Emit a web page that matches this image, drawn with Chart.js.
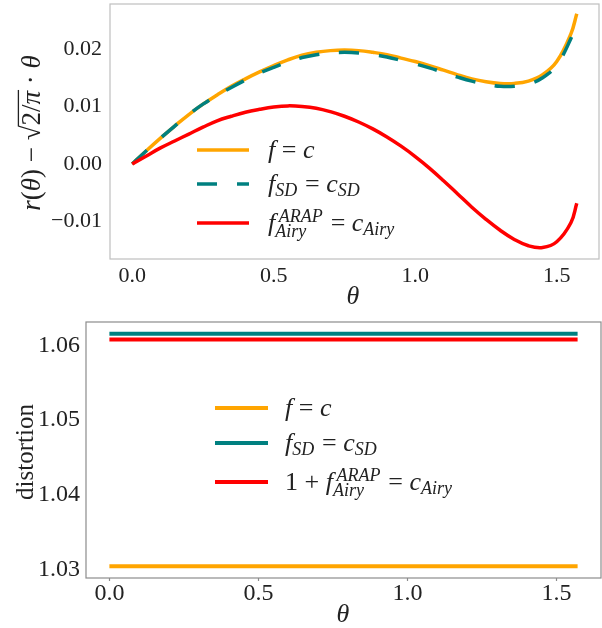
<!DOCTYPE html>
<html>
<head>
<meta charset="utf-8">
<script src="https://cdn.jsdelivr.net/npm/chart.js@4/dist/chart.umd.min.js"></script>
<style>
  html, body { margin: 0; padding: 0; background: #fff; }
  #wrap { position: relative; width: 602px; height: 628px; }
  canvas { position: absolute; left: 0; }
</style>
</head>
<body>
<div id="wrap">
  <canvas id="topChart" width="602" height="310" style="top:0"></canvas>
  <canvas id="bottomChart" width="602" height="318" style="top:310px"></canvas>
</div>
<script>
// ---- data ----
const theta = [0, 0.05, 0.10, 0.15, 0.20, 0.25, 0.30, 0.35, 0.40, 0.45, 0.50, 0.55, 0.60, 0.65,
  0.70, 0.75, 0.80, 0.85, 0.90, 0.95, 1.00, 1.05, 1.10, 1.15, 1.20, 1.25, 1.30, 1.35, 1.40,
  1.45, 1.50, 1.55, 1.5708];
const rF = [0, 0.0023, 0.0045, 0.0066, 0.0086, 0.0104, 0.0120, 0.0135, 0.0148, 0.0160, 0.0171,
  0.0181, 0.0189, 0.0194, 0.0197, 0.0198, 0.0197, 0.0194, 0.0190, 0.0184, 0.0178, 0.0171,
  0.0163, 0.0155, 0.0148, 0.0143, 0.0140, 0.0140, 0.0144, 0.0155, 0.0178, 0.0226, 0.0261];
const rSD = [0, 0.0023, 0.0045, 0.0066, 0.0086, 0.0104, 0.0119, 0.0133, 0.0146, 0.0158, 0.0168,
  0.0177, 0.0185, 0.0190, 0.0193, 0.0194, 0.0193, 0.0190, 0.0186, 0.0180, 0.0174, 0.0167,
  0.0159, 0.0151, 0.0144, 0.0139, 0.0135, 0.0135, 0.0139, 0.0150, 0.0172, 0.0218, 0.0247];
const rAiry = [0, 0.0014, 0.0028, 0.0040, 0.0052, 0.0064, 0.0075, 0.0083, 0.0090, 0.0095, 0.0099,
  0.0101, 0.0100, 0.0097, 0.0091, 0.0083, 0.0073, 0.0061, 0.0047, 0.0031, 0.0013, -0.0007,
  -0.0029, -0.0052, -0.0075, -0.0096, -0.0115, -0.0131, -0.0142, -0.0145, -0.0135, -0.0102, -0.0068];

const thetaFlat = [0, 1.5708];
const distF = [1.0304, 1.0304];
const distSD = [1.0616, 1.0616];
const distAiry = [1.0608, 1.0608];

// legend labels (math pieces: i = italic, sub/sup = scripts)
const labelsTop = [
  [{t: 'f', i: 1}, {t: ' = '}, {t: 'c', i: 1}],
  [{t: 'f', i: 1}, {sub: 'SD'}, {t: ' = '}, {t: 'c', i: 1}, {sub: 'SD'}],
  [{t: 'f', i: 1}, {sup: 'ARAP', sub: 'Airy'}, {t: ' = '}, {t: 'c', i: 1}, {sub: 'Airy'}]
];
const labelsBottom = [
  labelsTop[0],
  labelsTop[1],
  [{t: '1 + '}, {t: 'f', i: 1}, {sup: 'ARAP', sub: 'Airy'}, {t: ' = '}, {t: 'c', i: 1}, {sub: 'Airy'}]
];
const yLabelTop = [{t: 'r', i: 1}, {t: '('}, {t: 'θ', i: 1}, {t: ')'}, {t: ' − '},
  {sqrt: [{t: '2/'}, {t: 'π', i: 1}]}, {t: ' · '}, {t: 'θ', i: 1}];

const ORANGE = '#ffa500';
const TEAL = '#008080';
const RED = '#ff0000';
const TXT = '#222222';
const SERIF = '"Liberation Serif", "DejaVu Serif", serif';

const pts = (xs, ys) => xs.map((x, k) => ({x: x, y: ys[k]}));

// small math-text renderer; returns width
function drawMath(ctx, parts, x, y, size, draw) {
  const small = Math.round(size * 0.68);
  let cx = x;
  for (const p of parts) {
    if (p.sup !== undefined || p.sub !== undefined) {
      ctx.font = 'italic ' + small + 'px ' + SERIF;
      const both = p.sup && p.sub;
      let w = 0;
      if (p.sup) {
        const sx = cx + size * 0.14;
        if (draw) ctx.fillText(p.sup, sx, y - size * 0.36);
        w = sx - cx + ctx.measureText(p.sup).width;
      }
      if (p.sub) {
        if (draw) ctx.fillText(p.sub, cx, y + size * (both ? 0.24 : 0.15));
        w = Math.max(w, ctx.measureText(p.sub).width);
      }
      cx += w + size * 0.05;
    } else if (p.sqrt) {
      ctx.font = size + 'px ' + SERIF;
      if (draw) ctx.fillText('√', cx, y);
      cx += ctx.measureText('√').width;
      const start = cx;
      cx += drawMath(ctx, p.sqrt, cx, y, size, draw);
      if (draw) {
        ctx.save();
        ctx.strokeStyle = ctx.fillStyle;
        ctx.lineWidth = 1.3;
        ctx.beginPath();
        ctx.moveTo(start - 1, y - size * 0.8);
        ctx.lineTo(cx + 1, y - size * 0.8);
        ctx.stroke();
        ctx.restore();
      }
    } else {
      ctx.font = (p.i ? 'italic ' : '') + size + 'px ' + SERIF;
      if (draw) ctx.fillText(p.t, cx, y);
      cx += ctx.measureText(p.t).width;
    }
  }
  return cx - x;
}

function mathCentered(ctx, parts, cx, y, size, rotate) {
  ctx.save();
  ctx.fillStyle = TXT;
  ctx.textAlign = 'left';
  ctx.textBaseline = 'alphabetic';
  const w = drawMath(ctx, parts, 0, 0, size, false);
  ctx.translate(cx, y);
  if (rotate) ctx.rotate(-Math.PI / 2);
  drawMath(ctx, parts, -w / 2, 0, size, true);
  ctx.restore();
}

// frame, legend and axis titles
function decorPlugin(cfg) {
  return {
    id: 'decor',
    afterDraw(chart) {
      const ctx = chart.ctx;
      const a = chart.chartArea;
      ctx.save();
      ctx.strokeStyle = cfg.frame;
      ctx.lineWidth = 1.2;
      ctx.strokeRect(a.left, a.top, a.right - a.left, a.bottom - a.top);
      if (cfg.xTicks) {
        const xs = chart.scales.x;
        xs.ticks.forEach(t => {
          const px = Math.round(xs.getPixelForValue(t.value)) + 0.5;
          ctx.beginPath();
          ctx.moveTo(px, a.bottom);
          ctx.lineTo(px, a.bottom + 3);
          ctx.stroke();
        });
      }
      // legend
      chart.data.datasets.forEach((ds, k) => {
        const ly = cfg.legendRows[k];
        ctx.save();
        ctx.strokeStyle = ds.borderColor;
        ctx.lineWidth = ds.borderWidth;
        ctx.setLineDash(ds.borderDash || []);
        ctx.beginPath();
        ctx.moveTo(cfg.legendX[0], ly);
        ctx.lineTo(cfg.legendX[1], ly);
        ctx.stroke();
        ctx.restore();
        ctx.fillStyle = TXT;
        ctx.textAlign = 'left';
        ctx.textBaseline = 'alphabetic';
        drawMath(ctx, cfg.labels[k], cfg.legendX[2], ly + 8, cfg.legendSize, true);
      });
      ctx.restore();
      // axis titles
      mathCentered(ctx, [{t: 'θ', i: 1}], cfg.xTitle[0], cfg.xTitle[1], 26, false);
      mathCentered(ctx, cfg.yTitle, cfg.yTitlePos[0], cfg.yTitlePos[1], cfg.yTitleSize, true);
    }
  };
}

function scaleOpts(min, max, step, fmt, size, pad, fitKey, fitVal) {
  return {
    type: 'linear',
    min: min,
    max: max,
    grid: {display: false, drawTicks: false},
    border: {display: false},
    afterFit: s => {
      s[fitKey] = fitVal;
      // no extra room for half labels at the ends
      s.paddingTop = 0; s.paddingBottom = 0; s.paddingLeft = 0; s.paddingRight = 0;
    },
    ticks: {
      stepSize: step,
      includeBounds: false,
      autoSkip: false,
      maxRotation: 0,
      padding: pad,
      color: TXT,
      font: {family: SERIF, size: size},
      callback: fmt
    }
  };
}

const fmt2 = v => (v < 0 ? '−' : '') + Math.abs(v).toFixed(2);
const fmt1 = v => v.toFixed(1);

new Chart(document.getElementById('topChart').getContext('2d'), {
  type: 'line',
  data: {
    datasets: [
      {data: pts(theta, rF), borderColor: ORANGE, borderWidth: 3.5, order: 3},
      {data: pts(theta, rSD), borderColor: TEAL, borderWidth: 3.5, borderDash: [20, 20], order: 2},
      {data: pts(theta, rAiry), borderColor: RED, borderWidth: 3.5, order: 1}
    ]
  },
  options: {
    responsive: false,
    animation: false,
    layout: {padding: {top: 4, right: 3, left: 0, bottom: 0}},
    elements: {point: {radius: 0}, line: {tension: 0.4, fill: false}},
    scales: {
      x: scaleOpts(-0.0785, 1.6493, 0.5, fmt1, 22, 4, 'height', 51),
      y: scaleOpts(-0.0165, 0.0278, 0.01, fmt2, 22, 8, 'width', 110)
    },
    plugins: {legend: {display: false}, tooltip: {enabled: false}}
  },
  plugins: [decorPlugin({
    frame: '#bfbfbf',
    xTicks: false,
    legendRows: [150, 184, 223],
    legendX: [197, 249, 268],
    legendSize: 26,
    labels: labelsTop,
    xTitle: [353, 304],
    yTitle: yLabelTop,
    yTitlePos: [40, 133],
    yTitleSize: 27
  })]
});

new Chart(document.getElementById('bottomChart').getContext('2d'), {
  type: 'line',
  data: {
    datasets: [
      {data: pts(thetaFlat, distF), borderColor: ORANGE, borderWidth: 4, order: 3},
      {data: pts(thetaFlat, distSD), borderColor: TEAL, borderWidth: 4, order: 2},
      {data: pts(thetaFlat, distAiry), borderColor: RED, borderWidth: 4, order: 1}
    ]
  },
  options: {
    responsive: false,
    animation: false,
    layout: {padding: {top: 12, right: 1, left: 0, bottom: 0}},
    elements: {point: {radius: 0}, line: {tension: 0, fill: false}},
    scales: {
      x: scaleOpts(-0.0785, 1.6493, 0.5, fmt1, 24, 1, 'height', 50),
      y: scaleOpts(1.02884, 1.06316, 0.01, v => v.toFixed(2), 24, 6, 'width', 86)
    },
    plugins: {legend: {display: false}, tooltip: {enabled: false}}
  },
  plugins: [decorPlugin({
    frame: '#8c8c8c',
    xTicks: true,
    legendRows: [98, 133, 172],
    legendX: [215, 268, 285],
    legendSize: 26,
    labels: labelsBottom,
    xTitle: [343, 312],
    yTitle: [{t: 'distortion'}],
    yTitlePos: [33, 142],
    yTitleSize: 25
  })]
});
</script>
</body>
</html>
